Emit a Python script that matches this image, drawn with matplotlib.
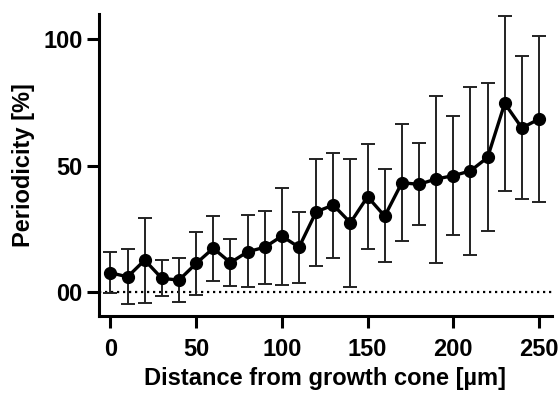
import matplotlib
matplotlib.use("Agg")
import matplotlib.pyplot as plt

plt.rcParams['font.family'] = ['Liberation Sans', 'DejaVu Sans']
plt.rcParams['font.weight'] = 'bold'

# values
distance = [0, 10, 20, 30, 40, 50, 60, 70, 80, 90, 100, 110, 120, 130, 140, 150,
            160, 170, 180, 190, 200, 210, 220, 230, 240, 250]
periodicity = [7.6, 6.0, 12.6, 5.4, 4.7, 11.3, 17.3, 11.6, 15.9, 17.7, 22.1, 17.7,
               31.7, 34.4, 27.4, 37.7, 30.0, 43.2, 42.6, 44.7, 46.0, 47.9, 53.2,
               74.6, 64.9, 68.4]
err_top = [15.7, 16.9, 29.1, 12.6, 13.6, 23.8, 30.0, 20.9, 30.4, 32.1, 41.2, 31.6,
           52.6, 55.1, 52.6, 58.4, 48.5, 66.3, 58.8, 77.7, 69.8, 81.1, 82.5,
           109.2, 93.3, 101.3]
err_bot = [-0.5, -4.6, -4.2, -1.5, -4.0, -1.3, 4.3, 2.5, 1.8, 3.0, 2.6, 3.7,
           10.4, 13.6, 2.1, 17.1, 11.9, 20.2, 26.4, 11.6, 22.4, 14.6, 24.1,
           39.9, 36.8, 35.6]
xticks = [0, 50, 100, 150, 200, 250]
yticks = [0, 50, 100]
ytick_labels = ["00", "50", "100"]

lower = [p - b for p, b in zip(periodicity, err_bot)]
upper = [t - p for p, t in zip(periodicity, err_top)]

fig = plt.figure(figsize=(5.58, 3.97), dpi=100)
ax = fig.add_axes([0.177, 0.204, 0.812, 0.761])

ax.axhline(0, color='black', linestyle=(0, (1, 1.7)), linewidth=1.6, zorder=1)
ax.errorbar(distance, periodicity, yerr=[lower, upper], fmt='none', ecolor='#222222',
            elinewidth=1.4, capsize=5, capthick=1.4, zorder=2)
ax.plot(distance, periodicity, color='black', linewidth=2.4, marker='o',
        markersize=8.5, zorder=3)

ax.set_xlim(-6.8, 257.5)
ax.set_ylim(-9.5, 110)
ax.set_xticks(xticks)
ax.set_yticks(yticks)
ax.set_yticklabels(ytick_labels)

for s in ['top', 'right']:
    ax.spines[s].set_visible(False)
for s in ['left', 'bottom']:
    ax.spines[s].set_linewidth(2.2)
ax.tick_params(axis='both', width=2.2, length=8.5, labelsize=17)
ax.tick_params(axis='x', pad=7)
ax.tick_params(axis='y', pad=3)
for lab in ax.get_xticklabels() + ax.get_yticklabels():
    lab.set_fontweight('bold')

ax.set_xlabel("Distance from growth cone [µm]", fontsize=17, fontweight='bold', labelpad=5)
ax.set_ylabel("Periodicity [%]", fontsize=17, fontweight='bold', labelpad=6)

fig.savefig("out.png", dpi=100)
